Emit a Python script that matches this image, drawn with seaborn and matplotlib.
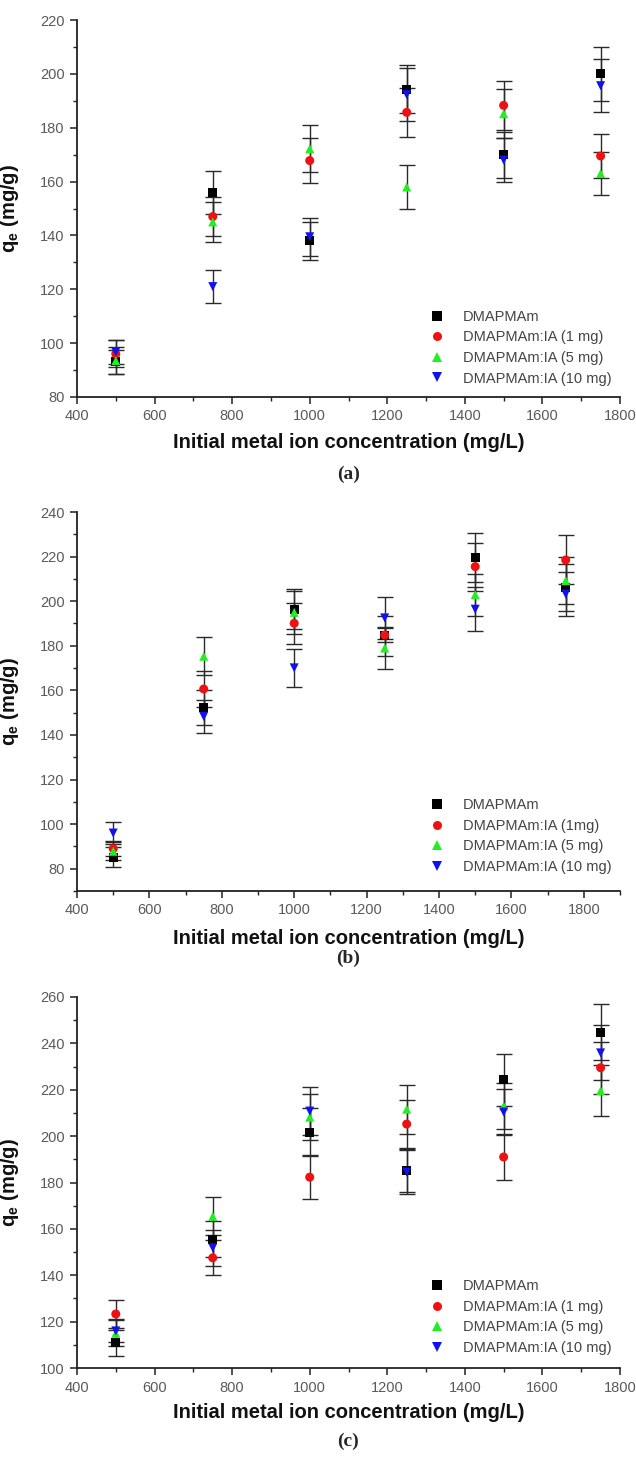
import numpy as np
import pandas as pd
import matplotlib
matplotlib.use("Agg")
import matplotlib.pyplot as plt
from matplotlib.ticker import MultipleLocator
import seaborn as sns

# Initial metal ion concentrations (mg/L)
conc = [500, 750, 1000, 1250, 1500, 1750]

series_names = ["DMAPMAm", "DMAPMAm:IA (1 mg)", "DMAPMAm:IA (5 mg)", "DMAPMAm:IA (10 mg)"]
series_names_b = ["DMAPMAm", "DMAPMAm:IA (1mg)", "DMAPMAm:IA (5 mg)", "DMAPMAm:IA (10 mg)"]

# Panel (a): equilibrium uptake q_e (mg/g) and standard deviations
a_dmapmam = [93.0, 156.0, 138.0, 194.3, 170.0, 200.0]
a_dmapmam_sd = [4.5, 8.0, 7.0, 9.0, 8.5, 10.0]
a_ia1 = [96.0, 147.0, 167.8, 185.7, 188.3, 169.5]
a_ia1_sd = [5.0, 7.3, 8.5, 9.2, 9.0, 8.3]
a_ia5 = [93.5, 145.0, 172.2, 158.0, 185.2, 163.0]
a_ia5_sd = [5.0, 7.5, 8.7, 8.0, 9.0, 8.0]
a_ia10 = [96.7, 121.0, 139.5, 192.3, 168.0, 195.6]
a_ia10_sd = [4.6, 6.0, 7.0, 9.8, 8.0, 9.8]

# Panel (b)
b_dmapmam = [85.2, 152.3, 196.4, 184.5, 219.5, 206.2]
b_dmapmam_sd = [4.6, 8.0, 9.0, 9.0, 11.0, 10.4]
b_ia1 = [89.0, 160.6, 190.1, 184.8, 215.5, 218.5]
b_ia1_sd = [3.5, 8.0, 9.3, 3.0, 10.8, 11.0]
b_ia5 = [87.8, 175.3, 195.0, 179.0, 202.9, 209.2]
b_ia5_sd = [4.0, 8.5, 9.7, 9.5, 9.4, 10.5]
b_ia10 = [96.0, 148.3, 170.1, 192.5, 196.4, 203.2]
b_ia10_sd = [4.9, 7.5, 8.6, 9.3, 10.0, 10.0]

# Panel (c)
c_dmapmam = [110.9, 155.5, 201.7, 185.0, 224.4, 244.8]
c_dmapmam_sd = [5.7, 7.8, 10.3, 9.3, 11.2, 12.0]
c_ia1 = [123.3, 147.5, 182.3, 205.2, 191.0, 229.5]
c_ia1_sd = [5.9, 7.6, 9.5, 10.4, 10.0, 11.2]
c_ia5 = [115.0, 165.4, 208.2, 211.6, 213.0, 219.6]
c_ia5_sd = [5.5, 8.2, 10.0, 10.6, 10.0, 11.0]
c_ia10 = [116.0, 151.8, 210.8, 184.5, 210.4, 235.9]
c_ia10_sd = [5.0, 7.8, 10.4, 9.5, 10.0, 11.9]

panels = [
    dict(tag="(a)", names=series_names,
         values=[a_dmapmam, a_ia1, a_ia5, a_ia10],
         sds=[a_dmapmam_sd, a_ia1_sd, a_ia5_sd, a_ia10_sd],
         xlim=(400, 1800), ylim=(80, 220)),
    dict(tag="(b)", names=series_names_b,
         values=[b_dmapmam, b_ia1, b_ia5, b_ia10],
         sds=[b_dmapmam_sd, b_ia1_sd, b_ia5_sd, b_ia10_sd],
         xlim=(400, 1900), ylim=(70, 240)),
    dict(tag="(c)", names=series_names,
         values=[c_dmapmam, c_ia1, c_ia5, c_ia10],
         sds=[c_dmapmam_sd, c_ia1_sd, c_ia5_sd, c_ia10_sd],
         xlim=(400, 1800), ylim=(100, 260)),
]

colors = ["#000000", "#ee1111", "#22ee22", "#1111ee"]
marker_shapes = ["s", "o", "^", "v"]

sns.set_style("ticks")
plt.rcParams["font.family"] = ["Liberation Sans", "DejaVu Sans"]
plt.rcParams["mathtext.fontset"] = "custom"
plt.rcParams["mathtext.rm"] = "Liberation Sans:bold"
plt.rcParams["mathtext.it"] = "Liberation Sans:bold"
plt.rcParams["mathtext.bf"] = "Liberation Sans:bold"

W, H = 636, 1457
fig = plt.figure(figsize=(W / 100, H / 100), dpi=100)

# axes boxes in pixels: (left, top, right, bottom)
boxes = [(77, 20, 620, 397), (77, 512, 620, 891), (77, 997, 620, 1368)]
tag_y = [474, 958, 1441]
xlabel_pad = [7, 8, 6]
legend_anchor = [(0.625, 0.015), (0.625, 0.03), (0.625, 0.02)]

for p, box, ty, lp, la in zip(panels, boxes, tag_y, xlabel_pad, legend_anchor):
    l, t, r, b = box
    ax = fig.add_axes([l / W, 1 - b / H, (r - l) / W, (b - t) / H])

    rows = []
    for name, vals, sd in zip(p["names"], p["values"], p["sds"]):
        for x, v, s in zip(conc, vals, sd):
            rows.append(dict(conc=x, qe=v, sd=s, series=name))
    df = pd.DataFrame(rows)

    for name in p["names"]:
        sub = df[df["series"] == name]
        ax.errorbar(sub["conc"], sub["qe"], yerr=sub["sd"], fmt="none",
                    ecolor="#2a2a2a", elinewidth=1.0, capsize=5.5,
                    capthick=1.0, zorder=2)

    sns.scatterplot(data=df, x="conc", y="qe", hue="series", style="series",
                    hue_order=p["names"], style_order=p["names"],
                    palette=dict(zip(p["names"], colors)),
                    markers=dict(zip(p["names"], marker_shapes)),
                    s=42, linewidth=0, edgecolor="none", ax=ax, zorder=3)

    handles, labels = ax.get_legend_handles_labels()
    ax.legend(handles, labels, loc="lower left", bbox_to_anchor=la,
              frameon=False, fontsize=10.5, labelcolor="#444444",
              handletextpad=0.8, labelspacing=0.45, borderaxespad=0,
              markerscale=1.0)

    ax.set_xlim(*p["xlim"])
    ax.set_ylim(*p["ylim"])
    ax.xaxis.set_major_locator(MultipleLocator(200))
    ax.xaxis.set_minor_locator(MultipleLocator(100))
    ax.yaxis.set_major_locator(MultipleLocator(20))
    ax.yaxis.set_minor_locator(MultipleLocator(10))
    ax.tick_params(which="major", direction="out", length=5, width=1.1,
                   color="#222222", labelsize=10.5, labelcolor="#5a5a5a", pad=4)
    ax.tick_params(which="minor", direction="out", length=3, width=1.0,
                   color="#222222")
    for side in ("top", "right"):
        ax.spines[side].set_visible(False)
    for side in ("left", "bottom"):
        ax.spines[side].set_linewidth(1.3)
        ax.spines[side].set_color("#222222")

    ax.set_xlabel("Initial metal ion concentration (mg/L)", fontsize=14.5,
                  fontweight="bold", color="#111111", labelpad=lp)
    ax.set_ylabel(r"$\mathregular{q_e}$ (mg/g)", fontsize=14.5,
                  fontweight="bold", color="#111111")
    ax.yaxis.set_label_coords(-0.103, 0.5)

    fig.text((l + r) / 2 / W, 1 - ty / H, p["tag"], ha="center", va="center",
             fontsize=14, fontweight="bold", family=["Liberation Serif"])

fig.savefig("out.png", dpi=100, facecolor="white")
